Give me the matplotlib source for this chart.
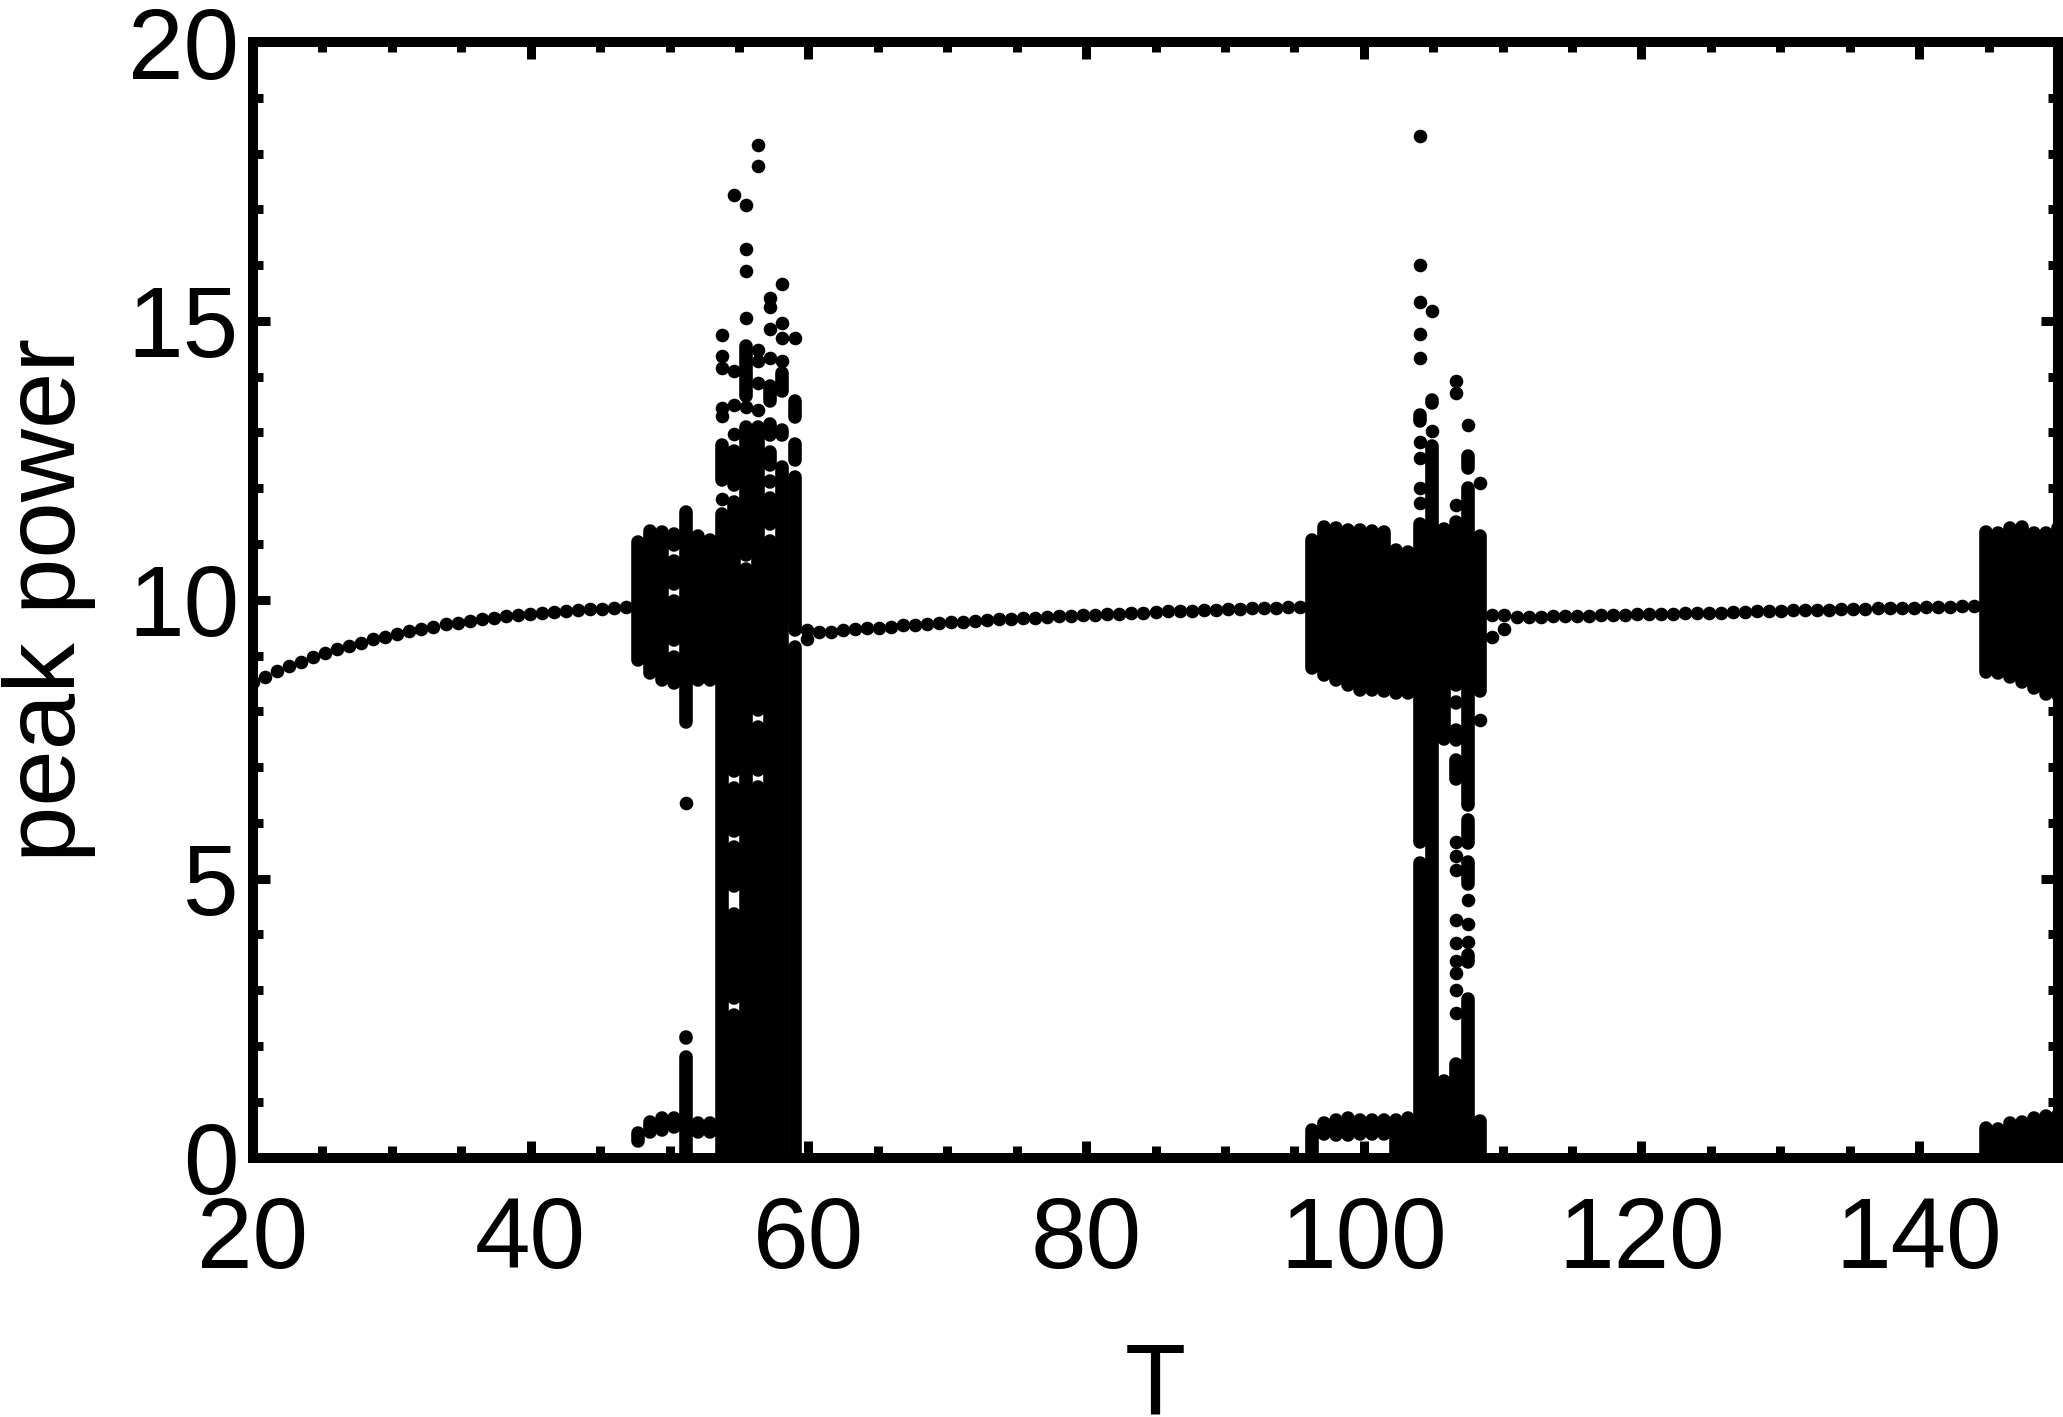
import matplotlib
matplotlib.use("Agg")
import matplotlib.pyplot as plt
from matplotlib.ticker import MultipleLocator

plt.rcParams['font.family'] = ['Liberation Sans', 'DejaVu Sans']

# Isolated points: sampled period T and peak power
dot_T = [
    20.00, 20.87, 21.73, 22.60, 23.47, 24.33, 25.20, 26.07, 26.93, 27.80, 28.67, 29.53, 30.40, 31.27, 32.13, 33.00,
    33.87, 34.73, 35.60, 36.47, 37.33, 38.20, 39.07, 39.93, 40.80, 41.67, 42.53, 43.40, 44.27, 45.13, 46.00, 46.87,
    59.87, 59.87,
    60.73, 61.60, 62.47, 63.33, 64.20, 65.07, 65.93, 66.80, 67.67, 68.53, 69.40, 70.27, 71.13, 72.00, 72.87, 73.73,
    74.60, 75.47, 76.33, 77.20, 78.07, 78.93, 79.80, 80.67, 81.53, 82.40, 83.27, 84.13, 85.00, 85.87, 86.73, 87.60,
    88.47, 89.33, 90.20, 91.07, 91.93, 92.80, 93.67, 94.53, 95.40,
    109.27, 109.27, 110.13, 110.13, 111.00,
    111.87, 112.73, 113.60, 114.47, 115.33, 116.20, 117.07, 117.93, 118.80, 119.67, 120.53, 121.40, 122.27, 123.13,
    124.00, 124.87, 125.73, 126.60, 127.47, 128.33, 129.20, 130.07, 130.93, 131.80, 132.67, 133.53, 134.40, 135.27,
    136.13, 137.00, 137.87, 138.73, 139.60, 140.47, 141.33, 142.20, 143.07, 143.93,
    51.20,
    53.80, 53.80, 53.80, 53.80, 53.80, 53.80,
    54.67, 54.67, 54.67, 54.67,
    55.53, 55.53, 55.53, 55.53, 55.53,
    56.40, 56.40, 56.40, 56.40, 56.40, 56.40,
    57.27, 57.27, 57.27, 57.27,
    58.13, 58.13, 58.13, 58.13,
    59.00,
    104.07, 104.07, 104.07, 104.07, 104.07, 104.07, 104.07, 104.07, 104.07,
    104.93, 104.93,
    106.67, 106.67, 106.67, 106.67, 106.67, 106.67, 106.67, 106.67, 106.67, 106.67, 106.67, 106.67,
    107.53, 107.53, 107.53, 107.53,
    108.40, 108.40,
]
dot_peak = [
    8.52, 8.62, 8.72, 8.81, 8.89, 8.97, 9.04, 9.11, 9.17, 9.23, 9.29, 9.34, 9.39, 9.44, 9.48, 9.52,
    9.56, 9.59, 9.62, 9.65, 9.68, 9.70, 9.72, 9.74, 9.76, 9.78, 9.80, 9.81, 9.83, 9.84, 9.85, 9.87,
    9.46, 9.29,
    9.42, 9.43, 9.45, 9.47, 9.49, 9.50, 9.52, 9.54, 9.55, 9.57, 9.58, 9.60, 9.61, 9.62, 9.64, 9.65,
    9.66, 9.67, 9.68, 9.69, 9.70, 9.71, 9.72, 9.73, 9.74, 9.75, 9.76, 9.77, 9.78, 9.79, 9.80, 9.80,
    9.81, 9.82, 9.83, 9.84, 9.85, 9.85, 9.86, 9.87, 9.87,
    9.72, 9.34, 9.72, 9.48, 9.69,
    9.69, 9.69, 9.70, 9.70, 9.71, 9.71, 9.72, 9.72, 9.73, 9.74, 9.74, 9.75, 9.75, 9.76,
    9.76, 9.77, 9.77, 9.78, 9.78, 9.79, 9.80, 9.80, 9.81, 9.81, 9.82, 9.82, 9.83, 9.83,
    9.84, 9.85, 9.85, 9.86, 9.86, 9.87, 9.87, 9.87, 9.88, 9.88,
    6.35,
    14.74, 14.37, 14.16, 13.43, 13.30, 11.81,
    17.25, 14.11, 13.49, 12.97,
    17.08, 16.29, 15.89, 15.06, 13.45,
    18.15, 17.78, 14.48, 14.28, 13.88, 13.41,
    15.41, 15.24, 14.86, 14.33,
    15.66, 14.96, 14.69, 14.28,
    14.69,
    18.32, 16.00, 15.33, 14.76, 14.33, 12.83, 12.55, 12.00, 11.74,
    15.17, 13.02,
    13.92, 13.70, 11.70, 5.65, 5.40, 5.15, 4.25, 3.84, 3.53, 3.31, 3.00, 2.59,
    13.13, 4.61, 4.19, 3.87,
    12.09, 7.84,
]

# Runs of points so dense that they merge: T, lowest and highest peak power
run_T = [
    47.73, 47.73, 48.60, 48.60, 49.47, 49.47,
    50.33, 50.33, 50.33, 50.33, 50.33,
    51.20, 51.20, 51.20,
    52.07, 52.07, 52.93, 52.93,
    53.80, 53.80,
    54.67, 54.67, 54.67, 54.67, 54.67, 54.67,
    55.53, 55.53, 55.53,
    56.40, 56.40, 56.40,
    57.27, 57.27, 57.27, 57.27, 57.27, 57.27,
    58.13, 58.13, 58.13, 58.13,
    59.00, 59.00, 59.00, 59.00,
    96.27, 96.27, 97.13, 97.13, 98.00, 98.00, 98.87, 98.87, 99.73, 99.73,
    100.60, 100.60, 101.47, 101.47, 102.33, 102.33, 103.20, 103.20,
    104.07, 104.07, 104.07,
    104.93, 104.93,
    105.80, 105.80,
    106.67, 106.67, 106.67, 106.67, 106.67, 106.67,
    107.53, 107.53, 107.53, 107.53, 107.53, 107.53,
    108.40, 108.40,
    144.80, 144.80, 145.67, 145.67, 146.53, 146.53, 147.40, 147.40,
    148.27, 148.27, 149.13, 149.13, 150.00, 150.00,
]
run_low = [
    8.92, 0.30, 8.68, 0.45, 8.57, 0.50,
    8.50, 9.27, 10.28, 10.99, 0.54,
    7.80, 0.00, 2.14,
    8.57, 0.45, 8.57, 0.45,
    0.00, 12.15,
    0.00, 2.86, 4.87, 5.86, 6.93, 12.05,
    0.00, 10.81, 13.66,
    0.00, 6.94, 8.02,
    0.00, 11.35, 12.11, 12.42, 12.95, 13.56,
    0.00, 12.66, 12.95, 13.75,
    0.00, 9.45, 12.50, 13.28,
    8.78, 0.00, 8.65, 0.42, 8.57, 0.41, 8.47, 0.41, 8.39, 0.42,
    8.38, 0.42, 8.37, 0.42, 8.33, 0.00, 8.32, 0.00,
    0.00, 5.66, 13.21,
    0.00, 13.52,
    7.50, 0.00,
    8.47, 8.14, 7.49, 6.78, 2.23, 0.00,
    6.32, 5.63, 4.91, 3.50, 0.00, 12.37,
    8.36, 0.00,
    8.71, 0.00, 8.69, 0.00, 8.62, 0.00, 8.53, 0.00,
    8.42, 0.00, 8.31, 0.00, 8.30, 0.00,
]
run_high = [
    11.04, 0.44, 11.23, 0.63, 11.22, 0.70,
    8.97, 9.98, 10.69, 11.17, 0.71,
    11.58, 1.80, 2.16,
    11.14, 0.62, 11.07, 0.62,
    11.53, 12.77,
    2.56, 4.37, 5.56, 6.63, 11.75, 12.67,
    10.55, 13.10, 14.55,
    6.64, 7.72, 13.10,
    11.05, 11.82, 12.13, 12.65, 13.15, 13.83,
    12.38, 12.67, 13.05, 14.07,
    9.15, 12.20, 12.80, 13.56,
    11.08, 0.49, 11.30, 0.61, 11.29, 0.67, 11.25, 0.70, 11.25, 0.67,
    11.23, 0.67, 11.21, 0.67, 10.90, 0.67, 10.85, 0.70,
    5.28, 11.35, 13.31,
    12.76, 13.59,
    11.26, 1.37,
    11.40, 8.17, 7.66, 7.12, 2.24, 1.67,
    12.00, 6.06, 5.29, 3.63, 2.84, 12.57,
    11.14, 0.65,
    11.22, 0.52, 11.20, 0.51, 11.28, 0.62, 11.30, 0.64,
    11.20, 0.70, 11.20, 0.75, 11.28, 0.76,
]

x_major_ticks = [20, 40, 60, 80, 100, 120, 140]
y_major_ticks = [0, 5, 10, 15, 20]
x_label = "T"
y_label = "peak power"

DPI = 100
W, H = 2063, 1417
px = 72 / DPI
fig = plt.figure(figsize=(W / DPI, H / DPI), dpi=DPI, facecolor='white')
ax = fig.add_axes([253 / W, 1 - 1157.5 / H, (2058 - 253) / W, (1157.5 - 42) / H])

ax.plot(dot_T, dot_peak, linestyle='none', marker='o', ms=13.6 * px, mfc='k', mec='k', mew=0, zorder=2)
ax.vlines(run_T, run_low, run_high, colors='k', linewidth=13.6 * px, capstyle='round', zorder=2)

ax.set_xlim(20, 150)
ax.set_ylim(0, 20)
ax.set_xticks(x_major_ticks)
ax.set_yticks(y_major_ticks)
ax.xaxis.set_minor_locator(MultipleLocator(5))
ax.yaxis.set_minor_locator(MultipleLocator(1))
ax.tick_params(which='major', direction='in', top=True, right=True, length=17 * px, width=9 * px, color='k')
ax.tick_params(which='minor', direction='in', top=True, right=True, length=10 * px, width=9 * px, color='k')
ax.tick_params(axis='x', which='major', labelsize=72, pad=27)
ax.tick_params(axis='y', which='major', labelsize=72, pad=10)
for tick in ax.xaxis.get_minor_ticks():
    tick.tick1line.set_markersize(12 * px)
for s in ax.spines.values():
    s.set_linewidth(10 * px)
    s.set_color('k')
    s.set_capstyle('projecting')
    s.set_zorder(5)
ax.set_axisbelow(False)

ax.set_xlabel(x_label, fontsize=72)
ax.set_ylabel(y_label, fontsize=73)
ax.xaxis.set_label_coords(0.5, -(1414 - 1157.5) / (1157.5 - 42), transform=ax.transAxes)
ax.xaxis.label.set_verticalalignment('baseline')
ax.yaxis.set_label_coords(-(253 - 75) / (2058 - 253), 0.5, transform=ax.transAxes)
ax.yaxis.label.set_verticalalignment('baseline')

fig.savefig('out.png', dpi=DPI, facecolor='white')
